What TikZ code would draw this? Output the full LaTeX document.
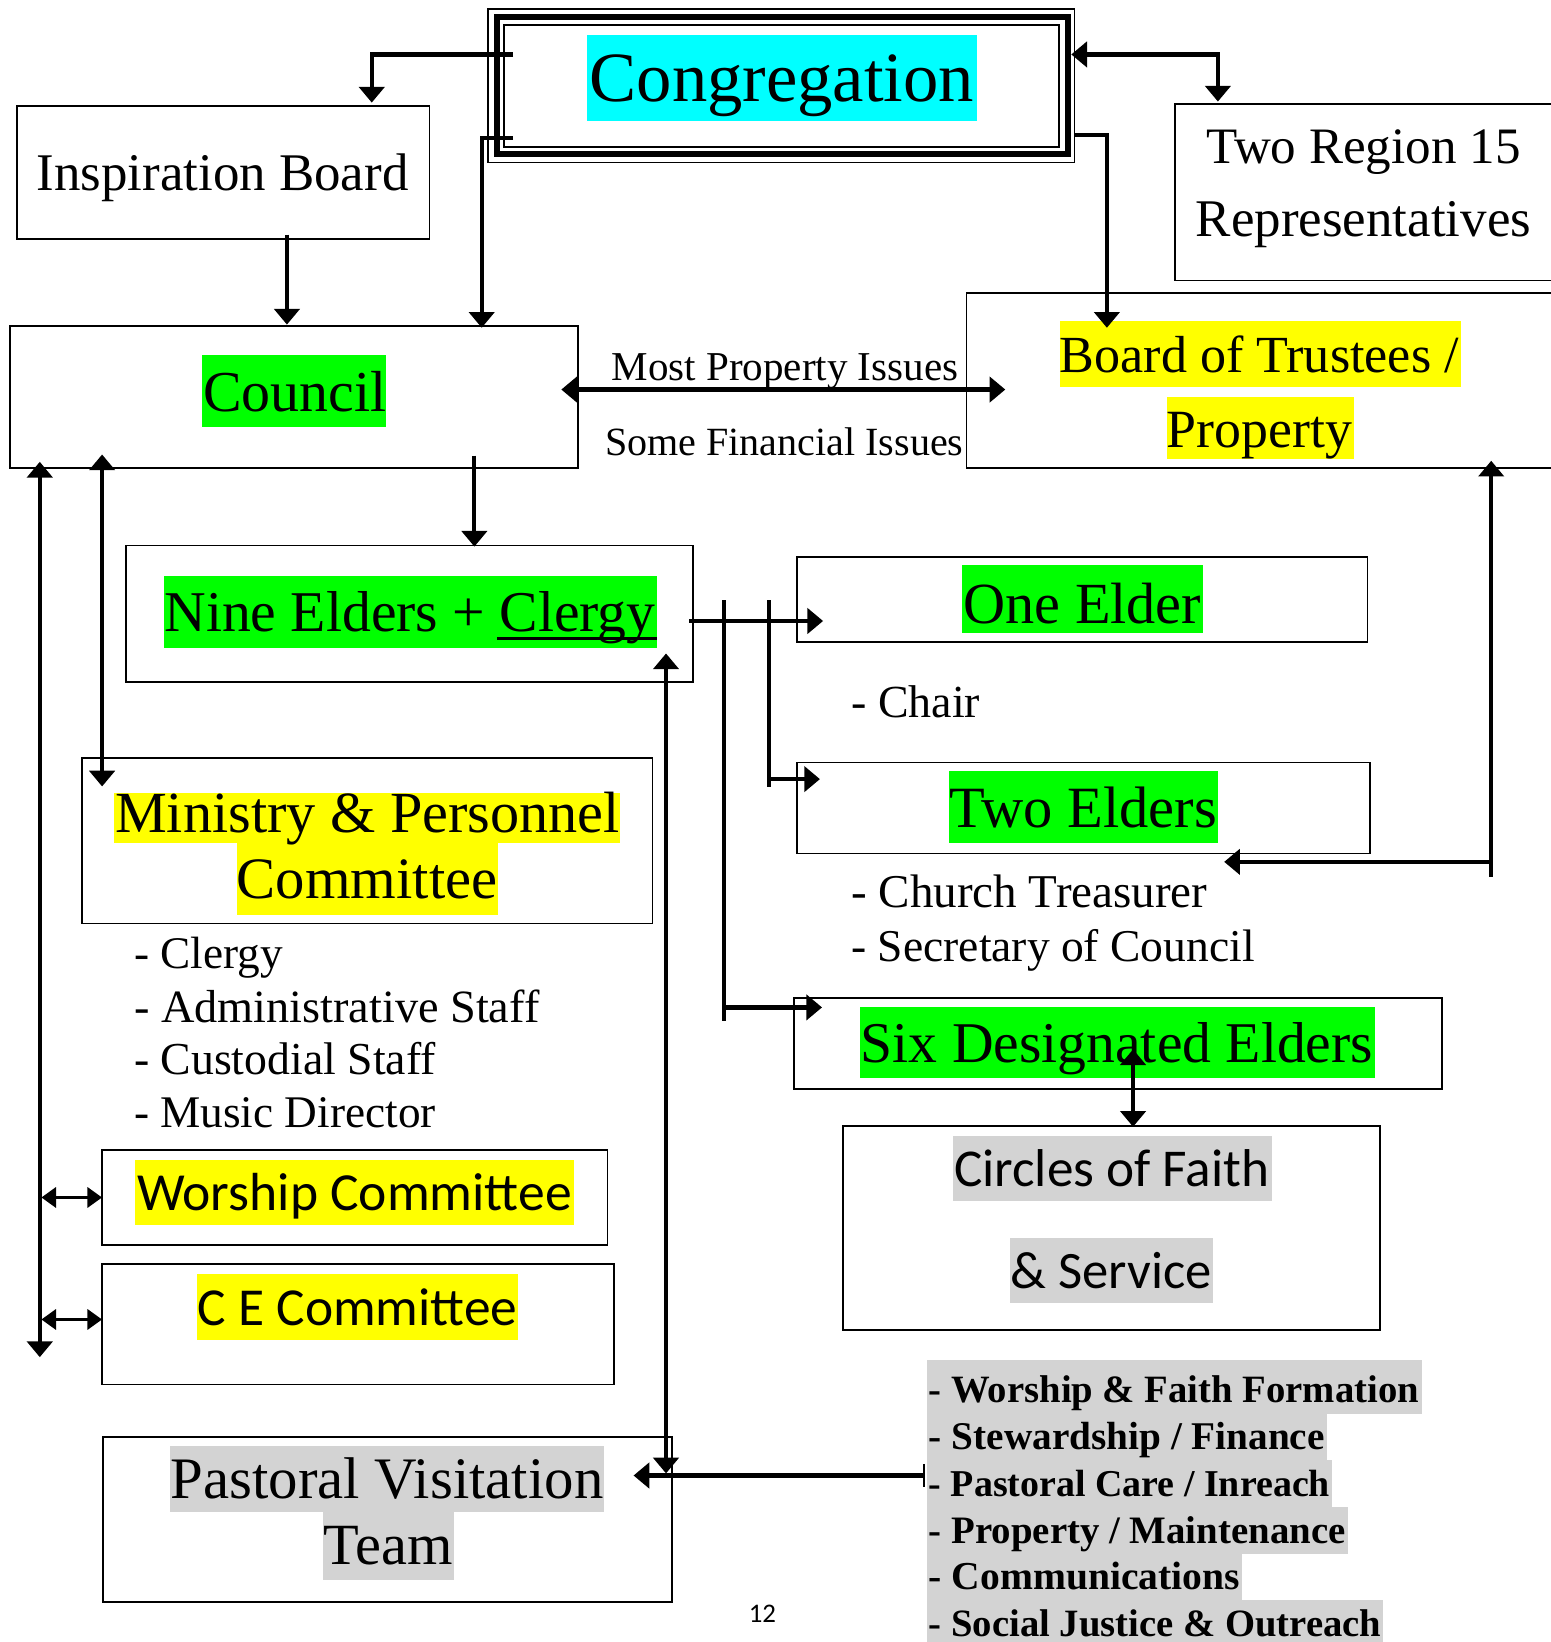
\documentclass[tikz,border=0pt]{standalone}
\usepackage{fontspec}
\setmainfont{Liberation Serif}
\newfontfamily\calib{Carlito}
\usepackage{graphicx}
\usetikzlibrary{arrows.meta,fit,calc}
\definecolor{hcyan}{HTML}{00FFFF}
\definecolor{hgreen}{HTML}{00FF00}
\definecolor{hyellow}{HTML}{FFFF00}
\definecolor{hgray}{HTML}{D3D3D3}
\newcommand\fitw[2]{\resizebox{#1pt}{!}{#2}}
\begin{document}
\begin{tikzpicture}[x=1pt,y=-1pt,
  box/.style={draw, line width=1.6pt, inner sep=0pt, outer sep=0pt},
  txt/.style={anchor=base west, inner sep=0pt, outer sep=0pt},
  conn/.style={line width=4pt, >={Triangle[length=15pt,width=24pt]}},
  sm/.style={line width=3.6pt, >={Triangle[length=14pt,width=19pt]}}]
\useasboundingbox (0,0) rectangle (1481,1568);
% ---------- boxes
\node[box, line width=1.5pt, fit={(466,8.6) (1026,155)}] (cong) {};
\draw[line width=6pt] ([shift={(8.3,7.4)}]cong.north west) rectangle ([shift={(-6,-8)}]cong.south east);
\draw[line width=2pt] ([shift={(15,15.4)}]cong.north west) rectangle ([shift={(-15,-15)}]cong.south east);
\node[box, fit={(16,101) (410,228)}] (insp) {};
\node[box, fit={(1122,99) (1495,268)}] (region) {};
\node[box, fit={(9.5,311) (552,447)}] (council) {};
\node[box, fit={(923,280) (1495,447)}] (board) {};
\node[box, fit={(120,521) (662,651)}] (nine) {};
\node[box, fit={(761,532) (1306,613)}] (one) {};
\node[box, fit={(761,728) (1308,815)}] (two) {};
\node[box, fit={(758,953) (1377,1040)}] (six) {};
\node[box, fit={(805,1075) (1318,1270)}] (circles) {};
\node[box, fit={(78,724) (623,882)}] (minis) {};
\node[box, fit={(97.5,1098) (580,1189)}] (worship) {};
\node[box, fit={(97.5,1207) (586,1322)}] (ce) {};
\node[box, fit={(98.5,1372) (641.5,1530)}] (pastoral) {};
% ---------- highlights
\fill[hcyan] (561,33) rectangle (933,116);
\fill[hgreen] (193,339) rectangle (369,408);
\fill[hyellow] (1012,307) rectangle (1395,370);
\fill[hyellow] (1114,379) rectangle (1293,438);
\fill[hgreen] (157,550) rectangle (627,619);
\fill[hyellow] (109,757) rectangle (592,805);
\fill[hyellow] (226,805) rectangle (476,874);
\fill[hyellow] (129,1108) rectangle (548,1170);
\fill[hyellow] (188,1217) rectangle (495,1280);
\fill[hgray] (162,1381) rectangle (577,1444);
\fill[hgray] (308,1444) rectangle (434,1509);
\fill[hgreen] (919,540) rectangle (1149,604);
\fill[hgreen] (906,736) rectangle (1163,805);
\fill[hgreen] (821,962) rectangle (1313,1029);
\fill[hgray] (910,1085) rectangle (1215,1147);
\fill[hgray] (964,1182) rectangle (1158,1244);
\fill[hgray] (885,1299) rectangle (1358,1350);
\fill[hgray] (885,1350) rectangle (1267,1394);
\fill[hgray] (885,1394) rectangle (1272,1439);
\fill[hgray] (885,1439) rectangle (1287,1484);
\fill[hgray] (885,1484) rectangle (1186,1528);
\fill[hgray] (885,1528) rectangle (1321,1570);
% ---------- texts
\node[txt] (tcong) at (563,97) {\fitw{367}{Congregation}};
\node[txt] (tinsp) at (35,182) {\fitw{355}{Inspiration Board}};
\node[txt] (treg1) at (1152,156) {\fitw{300}{Two Region 15}};
\node[txt] (treg2) at (1142,226) {\fitw{320}{Representatives}};
\node[txt] (tcouncil) at (194,393) {\fitw{175}{Council}};
\node[txt] (tmost) at (584,363) {\fitw{331}{Most Property Issues}};
\node[txt] (tsome) at (578,435) {\fitw{342}{Some Financial Issues}};
\node[txt] (tboard1) at (1012,356) {\fitw{381}{Board of Trustees /}};
\node[txt] (tboard2) at (1114,427) {\fitw{177}{Property}};
\node[txt] (tnine) at (157,603) {\fitw{469}{Nine Elders + Clergy}};
\draw[line width=2.7pt] (475,610) -- (627,610);
\node[txt] (tone) at (920,595) {\fitw{227}{One Elder}};
\node[txt] (tchair) at (813,685) {\fitw{123}{- Chair}};
\node[txt] (ttwo) at (907,790) {\fitw{255}{Two Elders}};
\node[txt] (ttreas) at (813,867) {\fitw{340}{- Church Treasurer}};
\node[txt] (tsecr) at (813,918) {\fitw{385}{- Secretary of Council}};
\node[txt] (tmin1) at (110,795) {\fitw{482}{Ministry \& Personnel}};
\node[txt] (tmin2) at (226,858) {\fitw{249}{Committee}};
\node[txt] (tcler) at (128,925) {\fitw{142}{- Clergy}};
\node[txt] (tadm) at (128,976) {\fitw{387}{- Administrative Staff}};
\node[txt] (tcus) at (128,1026) {\fitw{288}{- Custodial Staff}};
\node[txt] (tmus) at (128,1077) {\fitw{288}{- Music Director}};
\node[txt] (twor) at (131,1156) {\fitw{415}{\calib Worship Committee}};
\node[txt] (tce) at (189,1266) {\fitw{305}{\calib C E Committee}};
\node[txt] (tpas1) at (163,1431) {\fitw{413}{Pastoral Visitation}};
\node[txt] (tpas2) at (309,1494) {\fitw{123}{Team}};
\node[txt] (tsix) at (822,1015) {\fitw{489}{Six Designated Elders}};
\node[txt] (tcir1) at (911,1133) {\fitw{301}{\calib Circles of Faith}};
\node[txt] (tcir2) at (965,1230) {\fitw{192}{\calib \& Service}};
\node[txt] (tl1) at (887,1339) {\fitw{468}{\bfseries - Worship \& Faith Formation}};
\node[txt] (tl2) at (887,1384) {\fitw{378}{\bfseries - Stewardship / Finance}};
\node[txt] (tl3) at (887,1429) {\fitw{383}{\bfseries - Pastoral Care / Inreach}};
\node[txt] (tl4) at (887,1474) {\fitw{398}{\bfseries - Property / Maintenance}};
\node[txt] (tl5) at (887,1518) {\fitw{297}{\bfseries - Communications}};
\node[txt] (tl6) at (887,1563) {\fitw{432}{\bfseries - Social Justice \& Outreach}};
\node[txt] (tpage) at (715,1549) {\fitw{26}{\calib 12}};
% ---------- connectors
\draw[conn,->] ([shift={(24,43.4)}]cong.north west) -| ([shift={(339,-3)}]insp.north west);
\draw[conn,->] ([shift={(24,123.4)}]cong.north west) -| ([shift={(450.5,2)}]council.north west);
\draw[conn,->] ([shift={(258,-4)}]insp.south west) -- ([shift={(264.5,-1)}]council.north west);
\draw[conn,<->] ([shift={(-3,43.4)}]cong.north east) -| ([shift={(41,-2)}]region.north west);
\draw[conn,->] ([shift={(0,120.4)}]cong.north east) -| ([shift={(134,33)}]board.north west);
\draw[conn,<->] ([shift={(-16,61)}]council.north east) -- ([shift={(37,92)}]board.north west);
\draw[conn,->] ([shift={(443.5,-12)}]council.south west) -- ([shift={(333,1)}]nine.north west);
\draw[conn,<->] ([shift={(28.5,-6)}]council.south west) -- ([shift={(-59.5,-26)}]ce.south west);
\draw[sm,<->] ([shift={(-58,0)}]worship.west) -- (worship.west);
\draw[sm,<->] ([shift={(-58,-4.5)}]ce.west) -- ([shift={(0,-4.5)}]ce.west);
\draw[conn,<->] ([shift={(88,-13)}]council.south west) -- ([shift={(19.5,27)}]minis.north west);
\draw[conn,<->] ([shift={(-26,-27)}]nine.south east) -- ([shift={(-5.5,35)}]pastoral.north east);
\coordinate (listend) at (883,1409);
\draw[conn,{Bar[width=22pt,line width=2pt]}->] (listend) -- ([shift={(-36.5,37)}]pastoral.north east);
\draw[conn,->] ([shift={(-4,72)}]nine.north east) -- ([shift={(25,-20)}]one.south west);
\draw[conn] ([shift={(-27,-40)}]one.south west) -- ([shift={(-27,24)}]two.north west);
\draw[conn,->] ([shift={(-27,16)}]two.north west) -- ([shift={(22,16)}]two.north west);
\draw[conn] ([shift={(-70,-40)}]one.south west) -- ([shift={(-67,22)}]six.north west);
\draw[conn,->] ([shift={(-67,9)}]six.north west) -- ([shift={(27,9)}]six.north west);
\draw[conn,->] ([shift={(663,8)}]two.south west) -- ([shift={(408,8)}]two.south west);
\draw[conn,->] ([shift={(663,22)}]two.south west) -- ([shift={(501,-7)}]board.south west);
\draw[conn,<->] ([shift={(324,49)}]six.north west) -- ([shift={(277,1)}]circles.north west);
\end{tikzpicture}
\end{document}
